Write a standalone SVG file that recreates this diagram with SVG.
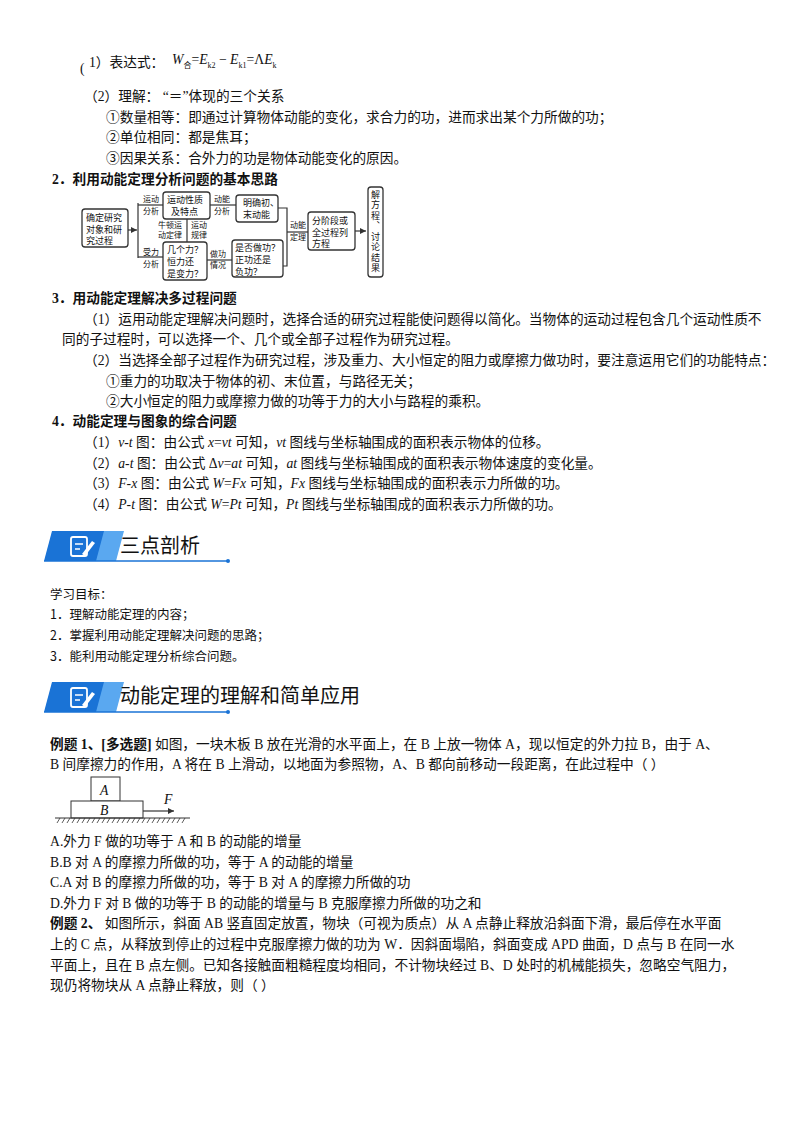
<svg xmlns="http://www.w3.org/2000/svg" width="800" height="1132" viewBox="0 0 800 1132">
<style>
text{font-family:"Liberation Serif","Noto Sans CJK SC",serif;font-size:13.7px;fill:#111}
.b{font-weight:bold}
.f{font-family:"Noto Sans CJK SC",sans-serif;font-size:9px}
.s{font-family:"Noto Sans CJK SC",sans-serif;font-size:8px}
.bx{fill:#fff;stroke:#333;stroke-width:1.3}
.ln{fill:none;stroke:#333;stroke-width:1.2}
.h{font-family:"Noto Sans CJK SC",sans-serif;font-size:20px}
.o{font-family:"Noto Sans CJK SC",sans-serif;font-size:12.5px}
</style>
<defs>
<marker id="ar" markerWidth="6" markerHeight="6" refX="5" refY="3" orient="auto"><path d="M0,0.5 L5,3 L0,5.5z" fill="#333"/></marker>
<g id="icon">
<path d="M52,531 L116,531 L108,561 L44,561z" fill="#1a73d6"/>
<path d="M104,531 L124,531 L116,561 L96,561z" fill="#5aa8f0"/>
<rect x="71" y="537" width="16" height="19" rx="2" fill="none" stroke="#fff" stroke-width="1.8"/>
<path d="M75,544h8M75,549h5" stroke="#fff" stroke-width="1.5"/>
<path d="M82,554 L92,541 L95,543 L85,556z" fill="#fff"/>
<path d="M44,561 L228,561" stroke="#1a73d6" stroke-width="1.5"/>
<circle cx="228" cy="561" r="2" fill="#1a73d6"/>
</g>
</defs>

<text x="80" y="73">(</text>
<text x="89" y="67">1）表达式：</text>
<text x="172" y="64" font-size="14.5"><tspan font-style="italic">W</tspan><tspan font-size="8" dy="4">合</tspan><tspan dy="-4">=</tspan><tspan font-style="italic">E</tspan><tspan font-size="8" dy="4">k2</tspan><tspan dy="-4"> − </tspan><tspan font-style="italic">E</tspan><tspan font-size="8" dy="4">k1</tspan><tspan dy="-4">=Λ</tspan><tspan font-style="italic">E</tspan><tspan font-size="8" dy="4">k</tspan></text>

<text x="84" y="101">（2）理解：  “＝”体现的三个关系</text>
<text x="106" y="122">①数量相等：即通过计算物体动能的变化，求合力的功，进而求出某个力所做的功；</text>
<text x="106" y="142">②单位相同：都是焦耳；</text>
<text x="106" y="163">③因果关系：合外力的功是物体动能变化的原因。</text>
<text x="52" y="184" class="b">2．利用动能定理分析问题的基本思路</text>

<g id="connectors">
<path class="ln" d="M128,230 H137" marker-end="url(#ar)"/>
<path class="ln" d="M138,203 V258"/>
<path class="ln" d="M138,205 H163"/>
<path class="ln" d="M138,257 H163"/>
<path class="ln" d="M210,205 H236"/>
<path class="ln" d="M207,260 H232"/>
<path class="ln" d="M187,219 V242"/>
<path class="ln" d="M278,208 H287 V266 H283"/>
<path class="ln" d="M287,232 H308"/>
<path class="ln" d="M355,231 H366" marker-end="url(#ar)"/>
</g>
<g id="n1"><rect class="bx" x="82" y="209" width="46" height="38" rx="3"/><text class="f" x="86" y="221">确定研究</text><text class="f" x="86" y="233">对象和研</text><text class="f" x="86" y="244">究过程</text></g>
<g id="n2"><rect class="bx" x="163" y="192" width="47" height="27" rx="3"/><text class="f" x="167" y="203">运动性质</text><text class="f" x="171" y="215">及特点</text></g>
<g id="n3"><rect class="bx" x="236" y="195" width="42" height="27" rx="3"/><text class="f" x="243" y="206">明确初、</text><text class="f" x="243" y="218">末动能</text></g>
<g id="n4"><rect class="bx" x="163" y="242" width="44" height="38" rx="3"/><text class="f" x="167" y="253">几个力？</text><text class="f" x="167" y="265">恒力还</text><text class="f" x="167" y="277">是变力？</text></g>
<g id="n5"><rect class="bx" x="232" y="240" width="51" height="37" rx="3"/><text class="f" x="235" y="251">是否做功？</text><text class="f" x="235" y="263">正功还是</text><text class="f" x="235" y="275">负功？</text></g>
<g id="n6"><rect class="bx" x="308" y="212" width="47" height="38" rx="3"/><text class="f" x="312" y="224">分阶段或</text><text class="f" x="312" y="236">全过程列</text><text class="f" x="312" y="247">方程</text></g>
<g id="n7"><rect class="bx" x="368" y="187" width="15" height="90" rx="3"/>
<text class="f" x="375.5" y="190" writing-mode="vertical-rl" letter-spacing="1.5">解方程、讨论结果</text></g>
<text class="s" x="143" y="202">运动</text><text class="s" x="143" y="214">分析</text>
<text class="s" x="214" y="202">动能</text><text class="s" x="214" y="214">分析</text>
<text class="s" x="158" y="228">牛顿运</text><text class="s" x="158" y="238">动定律</text>
<text class="s" x="191" y="228">运动</text><text class="s" x="191" y="238">规律</text>
<text class="s" x="143" y="255">受力</text><text class="s" x="143" y="267">分析</text>
<text class="s" x="210" y="257">做功</text><text class="s" x="210" y="268">情况</text>
<text class="s" x="290" y="228">动能</text><text class="s" x="290" y="240">定理</text>

<text x="52" y="303" class="b">3．用动能定理解决多过程问题</text>
<text x="84" y="324">（1）运用动能定理解决问题时，选择合适的研究过程能使问题得以简化。当物体的运动过程包含几个运动性质不</text>
<text x="62" y="344">同的子过程时，可以选择一个、几个或全部子过程作为研究过程。</text>
<text x="84" y="365">（2）当选择全部子过程作为研究过程，涉及重力、大小恒定的阻力或摩擦力做功时，要注意运用它们的功能特点：</text>
<text x="106" y="386">①重力的功取决于物体的初、末位置，与路径无关；</text>
<text x="106" y="406">②大小恒定的阻力或摩擦力做的功等于力的大小与路程的乘积。</text>
<text x="52" y="426" class="b">4．动能定理与图象的综合问题</text>
<text x="84" y="447">（1）<tspan font-style="italic">v-t</tspan> 图：由公式 <tspan font-style="italic">x</tspan>=<tspan font-style="italic">vt</tspan> 可知，<tspan font-style="italic">vt</tspan> 图线与坐标轴围成的面积表示物体的位移。</text>
<text x="84" y="468">（2）<tspan font-style="italic">a-t</tspan> 图：由公式 Δ<tspan font-style="italic">v</tspan>=<tspan font-style="italic">at</tspan> 可知，<tspan font-style="italic">at</tspan> 图线与坐标轴围成的面积表示物体速度的变化量。</text>
<text x="84" y="488">（3）<tspan font-style="italic">F-x</tspan> 图：由公式 <tspan font-style="italic">W</tspan>=<tspan font-style="italic">Fx</tspan> 可知，<tspan font-style="italic">Fx</tspan> 图线与坐标轴围成的面积表示力所做的功。</text>
<text x="84" y="509">（4）<tspan font-style="italic">P-t</tspan> 图：由公式 <tspan font-style="italic">W</tspan>=<tspan font-style="italic">Pt</tspan> 可知，<tspan font-style="italic">Pt</tspan> 图线与坐标轴围成的面积表示力所做的功。</text>

<g id="banner1"><use href="#icon"/><text class="h" x="120" y="553">三点剖析</text></g>
<text class="o" x="50" y="599">学习目标：</text>
<text class="o" x="50" y="619">1．理解动能定理的内容；</text>
<text class="o" x="50" y="640">2．掌握利用动能定理解决问题的思路；</text>
<text class="o" x="50" y="661">3．能利用动能定理分析综合问题。</text>
<g id="banner2"><use href="#icon" y="151"/><text class="h" x="120" y="703">动能定理的理解和简单应用</text></g>

<text x="50" y="749"><tspan class="b">例题 1、[多选题]</tspan>   如图，一块木板 B 放在光滑的水平面上，在 B 上放一物体 A，现以恒定的外力拉 B，由于 A、</text>
<text x="50" y="769">B 间摩擦力的作用，A 将在 B 上滑动，以地面为参照物，A、B 都向前移动一段距离，在此过程中（    ）</text>
<g id="fig1">
<rect x="91" y="777" width="29" height="24" fill="#fff" stroke="#333"/>
<rect x="71" y="801" width="72" height="17" fill="#fff" stroke="#333"/>
<text x="100" y="795" font-style="italic">A</text><text x="100" y="815" font-style="italic">B</text>
<path class="ln" d="M143,811 H174" marker-end="url(#ar)"/>
<text x="164" y="804" font-style="italic">F</text>
<path d="M55,818 H190" stroke="#333"/>
<path d="M57,823 l3,-5 M62,823 l3,-5 M67,823 l3,-5 M72,823 l3,-5 M77,823 l3,-5 M82,823 l3,-5 M87,823 l3,-5 M92,823 l3,-5 M97,823 l3,-5 M102,823 l3,-5 M107,823 l3,-5 M112,823 l3,-5 M117,823 l3,-5 M122,823 l3,-5 M127,823 l3,-5 M132,823 l3,-5 M137,823 l3,-5 M142,823 l3,-5 M147,823 l3,-5 M152,823 l3,-5 M157,823 l3,-5 M162,823 l3,-5 M167,823 l3,-5 M172,823 l3,-5 M177,823 l3,-5 M182,823 l3,-5" stroke="#333" stroke-width="0.8"/>
</g>
<text x="50" y="846">A.外力 F 做的功等于 A 和 B 的动能的增量</text>
<text x="50" y="867">B.B 对 A 的摩擦力所做的功，等于 A 的动能的增量</text>
<text x="50" y="887">C.A 对 B 的摩擦力所做的功，等于 B 对 A 的摩擦力所做的功</text>
<text x="50" y="908">D.外力 F 对 B 做的功等于 B 的动能的增量与 B 克服摩擦力所做的功之和</text>
<text x="50" y="928"><tspan class="b">例题 2、</tspan>    如图所示，斜面 AB 竖直固定放置，物块（可视为质点）从 A 点静止释放沿斜面下滑，最后停在水平面</text>
<text x="50" y="949">上的 C 点，从释放到停止的过程中克服摩擦力做的功为 W．因斜面塌陷，斜面变成 APD 曲面，D 点与 B 在同一水</text>
<text x="50" y="970">平面上，且在 B 点左侧。已知各接触面粗糙程度均相同，不计物块经过 B、D 处时的机械能损失，忽略空气阻力，</text>
<text x="50" y="990">现仍将物块从 A 点静止释放，则（    ）</text>
</svg>
